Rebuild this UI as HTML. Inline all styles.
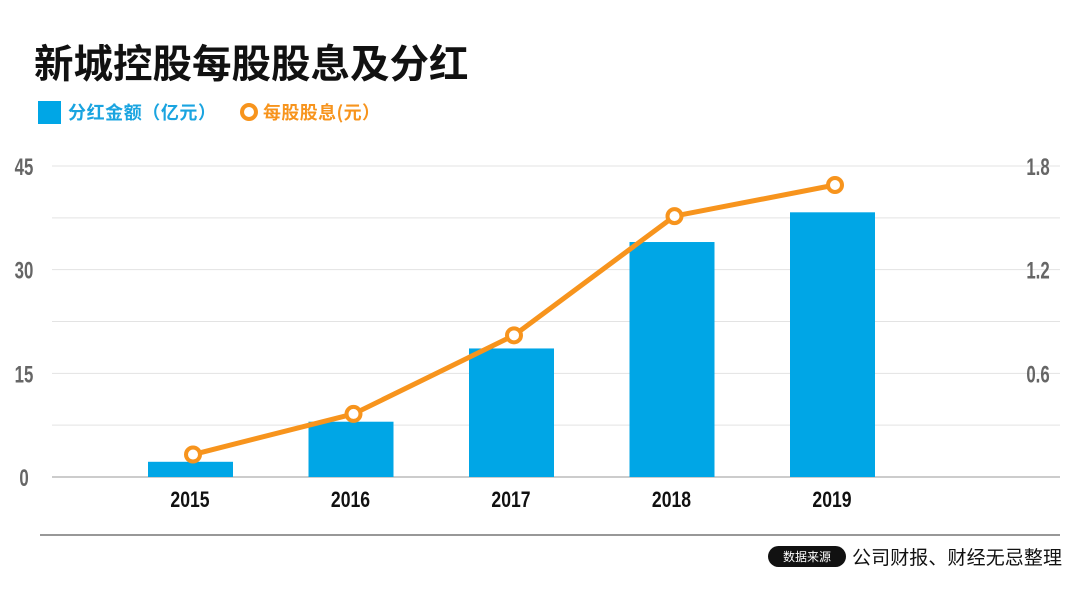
<!DOCTYPE html>
<html><head><meta charset="utf-8"><style>
body{margin:0;background:#fff;width:1080px;height:594px;overflow:hidden;font-family:"Liberation Sans","Noto Sans CJK SC",sans-serif}
</style></head><body>
<svg width="1080" height="594" xmlns="http://www.w3.org/2000/svg">
<text x="34" y="78" font-size="39.5" font-weight="bold" fill="#111" font-family="Noto Sans CJK SC, sans-serif">新城控股每股股息及分红</text>
<g>
<rect x="38" y="101" width="23" height="23" fill="#00a6e6"/>
<text x="68" y="119" font-size="18" font-weight="bold" fill="#1aa4e0" font-family="Noto Sans CJK SC, sans-serif" textLength="148">分红金额（亿元）</text>
<circle cx="249" cy="112" r="7" fill="#fff" stroke="#f7941d" stroke-width="4"/>
<text x="263" y="119" font-size="18" font-weight="bold" fill="#f7941d" font-family="Noto Sans CJK SC, sans-serif" textLength="117">每股股息(元）</text>
</g>
<g id="grid"></g><g id="bars"></g><g id="line"></g><g id="labels"></g>
<line x1="40" y1="535" x2="1060" y2="535" stroke="#777" stroke-width="1.5"/>
<rect x="768" y="546" width="78" height="21" rx="10.5" fill="#111"/>
<text x="807" y="561" font-size="12" fill="#fff" text-anchor="middle" font-family="Noto Sans CJK SC, sans-serif">数据来源</text>
<text x="852" y="564" font-size="19" fill="#111" font-family="Noto Sans CJK SC, sans-serif" textLength="210">公司财报、财经无忌整理</text>
</svg>
<script>
const categories=["2015","2016","2017","2018","2019"];
const dividendTotal=[2.2,8.0,18.6,34.0,38.3];
const dividendPerShare=[0.13,0.365,0.82,1.51,1.69];
const leftTicks=[0,15,30,45];
const rightTicks=["0.6","1.2","1.8"];
const NS="http://www.w3.org/2000/svg";
const y0=477,yTop=166;
const yL=v=>y0-(v/45)*(y0-yTop);
const yR=v=>y0-(v/1.8)*(y0-yTop);
const xC=i=>190+i*160.5;
function mk(tag,attrs,parent){const e=document.createElementNS(NS,tag);for(const k in attrs)e.setAttribute(k,attrs[k]);document.getElementById(parent).appendChild(e);return e;}
for(let v=0;v<=45;v+=7.5){
 const g=mk('line',{x1:52,x2:1060,y1:yL(v),y2:yL(v),stroke:v===0?'#999':'#e3e3e3','stroke-width':1},'grid');
 
 
}
leftTicks.forEach(v=>{
 const t=mk('text',{x:24,y:yL(v)+9,'font-size':24,'font-weight':'bold',fill:'#666','text-anchor':'middle',transform:`translate(24 0) scale(0.7 1) translate(-24 0)`},'labels');
 t.textContent=v;
 
 
});
rightTicks.forEach(v=>{
 const t=mk('text',{x:1038,y:yR(parseFloat(v))+9,'font-size':24,'font-weight':'bold',fill:'#666','text-anchor':'middle',transform:`translate(1038 0) scale(0.7 1) translate(-1038 0)`},'labels');
 t.textContent=v;
 
 
});
categories.forEach((c,i)=>{
 const b=mk('rect',{x:xC(i)-42,y:yL(dividendTotal[i]),width:85,height:y0-yL(dividendTotal[i]),fill:'#00a6e6'},'bars');
 
 
 const t=mk('text',{x:xC(i),y:507,'font-size':22,'font-weight':'bold',fill:'#111','text-anchor':'middle',transform:`translate(${xC(i)} 0) scale(0.8 1) translate(${-xC(i)} 0)`},'labels');
 t.textContent=c;
 
 
});
const pts=dividendPerShare.map((v,i)=>[xC(i)+3,yR(v)]);
const pl=mk('polyline',{points:pts.map(p=>p.join(',')).join(' '),fill:'none',stroke:'#f7941d','stroke-width':5,'stroke-linejoin':'round'},'line');


pts.forEach((p,i)=>{
 const c=mk('circle',{cx:p[0],cy:p[1],r:7,fill:'#fff',stroke:'#f7941d','stroke-width':4},'line');
 
 
});
</script>
</body></html>
